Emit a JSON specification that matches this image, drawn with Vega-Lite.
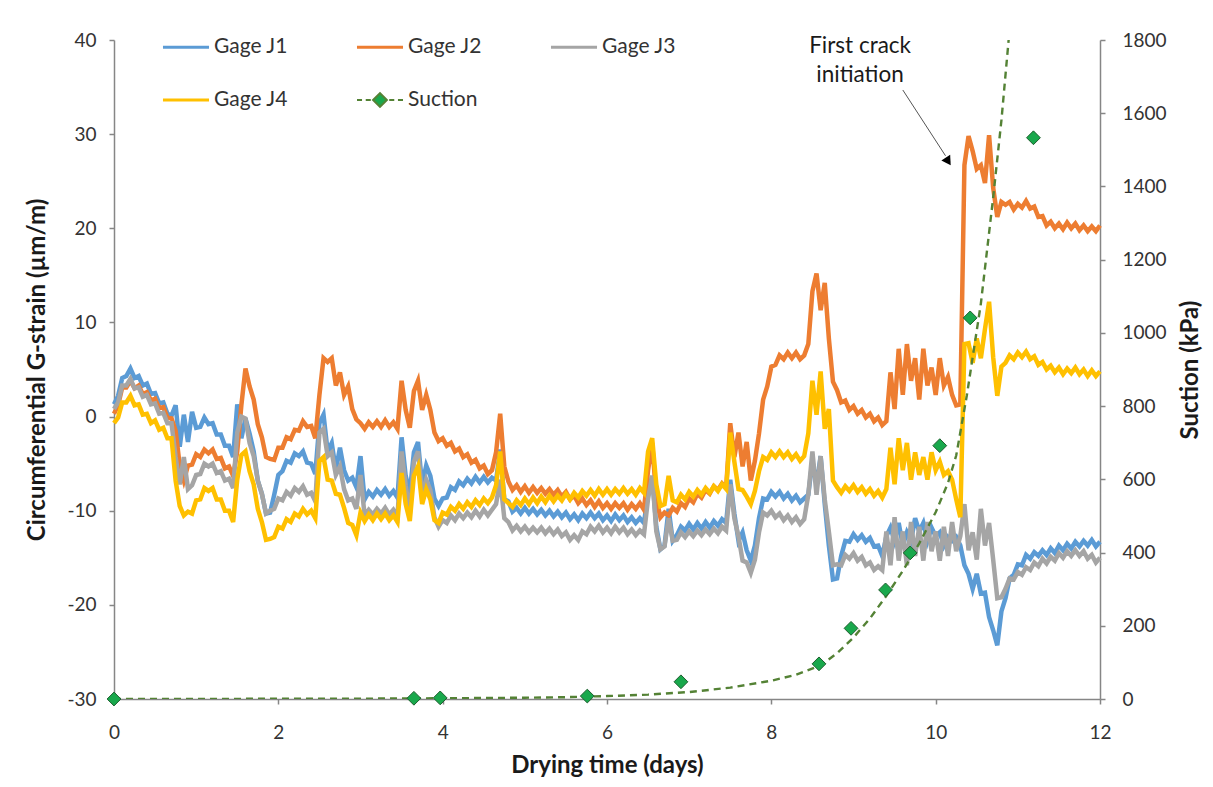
{
"$schema":"https://vega.github.io/schema/vega-lite/v6.json",
"width":986,"height":659,
"autosize":{"type":"none"},
"padding":{"left":114,"top":40,"right":113,"bottom":88},
"background":"white",
"config":{"font":"Lato","view":{"stroke":null},
"axis":{"grid":false,"labelFlush":false,"labelOverlap":false,"domainColor":"#868686","tickColor":"#868686","domainWidth":1.5,"tickWidth":1.5,"tickSize":5,"labelFont":"Lato","labelFontSize":19,"labelColor":"#333333","titleFont":"Lato","titleFontSize":24,"titleFontWeight":"bold","titleColor":"#1a1a1a"}},
"datasets":{
"g":[
{"t":0,"J1":1.3,"J2":0.3,"J3":0.8,"J4":-0.7},
{"t":0.05,"J1":2.2,"J2":1.2,"J3":1.5,"J4":-0.1},
{"t":0.1,"J1":4.1,"J2":3.1,"J3":3.3,"J4":1.5},
{"t":0.15,"J1":4.3,"J2":3.1,"J3":3.3,"J4":1.5},
{"t":0.2,"J1":5.1,"J2":3.8,"J3":4.0,"J4":2.2},
{"t":0.25,"J1":4.1,"J2":3.0,"J3":3.0,"J4":1.2},
{"t":0.3,"J1":4.3,"J2":3.3,"J3":3.1,"J4":1.3},
{"t":0.35,"J1":3.3,"J2":2.4,"J3":2.1,"J4":0.2},
{"t":0.4,"J1":3.5,"J2":2.6,"J3":2.3,"J4":0.3},
{"t":0.45,"J1":2.4,"J2":1.7,"J3":1.3,"J4":-0.7},
{"t":0.5,"J1":2.5,"J2":1.9,"J3":1.4,"J4":-0.4},
{"t":0.55,"J1":1.4,"J2":0.9,"J3":0.3,"J4":-1.4},
{"t":0.6,"J1":1.5,"J2":1.0,"J3":0.4,"J4":-1.2},
{"t":0.65,"J1":0.3,"J2":-0.1,"J3":-0.7,"J4":-2.3},
{"t":0.7,"J1":0.1,"J2":-0.2,"J3":-0.7,"J4":-2.3},
{"t":0.75,"J1":1.2,"J2":-1.5,"J3":-4.3,"J4":-6.8},
{"t":0.8,"J1":-3.2,"J2":-5.2,"J3":-7.2,"J4":-9.5},
{"t":0.85,"J1":0.2,"J2":-6.8,"J3":-4.3,"J4":-10.5},
{"t":0.9,"J1":-2.7,"J2":-5.2,"J3":-7.7,"J4":-10.1},
{"t":0.95,"J1":0.5,"J2":-5.1,"J3":-7.3,"J4":-10.3},
{"t":1.0,"J1":-1.2,"J2":-4.0,"J3":-6.2,"J4":-8.9},
{"t":1.05,"J1":-1.1,"J2":-4.3,"J3":-6.1,"J4":-8.8},
{"t":1.1,"J1":-0.1,"J2":-3.5,"J3":-5.0,"J4":-7.6},
{"t":1.15,"J1":-0.8,"J2":-3.9,"J3":-5.3,"J4":-7.9},
{"t":1.2,"J1":-0.7,"J2":-3.5,"J3":-5.0,"J4":-7.6},
{"t":1.25,"J1":-1.9,"J2":-4.5,"J3":-6.0,"J4":-8.8},
{"t":1.3,"J1":-1.9,"J2":-4.4,"J3":-5.8,"J4":-8.8},
{"t":1.35,"J1":-3.1,"J2":-5.5,"J3":-6.8,"J4":-10.0},
{"t":1.4,"J1":-3.1,"J2":-5.3,"J3":-6.6,"J4":-10.0},
{"t":1.45,"J1":-4.3,"J2":-6.3,"J3":-7.6,"J4":-11.2},
{"t":1.5,"J1":1.3,"J2":-3.7,"J3":-1.7,"J4":-6.7},
{"t":1.55,"J1":-2.3,"J2":1.2,"J3":0.0,"J4":-4.1},
{"t":1.6,"J1":-0.2,"J2":5.1,"J3":-0.2,"J4":-3.7},
{"t":1.65,"J1":-1.8,"J2":3.2,"J3":-2.8,"J4":-5.8},
{"t":1.7,"J1":-3.7,"J2":1.8,"J3":-4.2,"J4":-7.2},
{"t":1.75,"J1":-6.8,"J2":-0.8,"J3":-6.8,"J4":-9.8},
{"t":1.8,"J1":-8.2,"J2":-2.2,"J3":-8.2,"J4":-11.2},
{"t":1.85,"J1":-10.3,"J2":-4.3,"J3":-10.3,"J4":-13.1},
{"t":1.9,"J1":-10.2,"J2":-4.5,"J3":-10.0,"J4":-13.0},
{"t":1.95,"J1":-8.3,"J2":-4.6,"J3":-9.8,"J4":-12.8},
{"t":2.0,"J1":-6.2,"J2":-3.3,"J3":-8.7,"J4":-11.7},
{"t":2.05,"J1":-5.8,"J2":-3.3,"J3":-8.9,"J4":-11.9},
{"t":2.1,"J1":-4.7,"J2":-2.2,"J3":-8.0,"J4":-10.9},
{"t":2.15,"J1":-4.9,"J2":-2.4,"J3":-8.4,"J4":-11.2},
{"t":2.2,"J1":-3.9,"J2":-1.4,"J3":-7.6,"J4":-10.3},
{"t":2.25,"J1":-4.2,"J2":-1.5,"J3":-8.0,"J4":-10.6},
{"t":2.3,"J1":-3.7,"J2":-0.5,"J3":-7.4,"J4":-9.8},
{"t":2.35,"J1":-4.9,"J2":-1.1,"J3":-8.3,"J4":-10.4},
{"t":2.4,"J1":-5.0,"J2":-1.0,"J3":-8.1,"J4":-10.0},
{"t":2.45,"J1":-6.1,"J2":-2.3,"J3":-9.0,"J4":-10.8},
{"t":2.5,"J1":-0.7,"J2":2.3,"J3":-1.7,"J4":-4.7},
{"t":2.55,"J1":0.2,"J2":6.2,"J3":-1.3,"J4":-4.3},
{"t":2.6,"J1":-3.7,"J2":5.8,"J3":-4.2,"J4":-6.7},
{"t":2.65,"J1":-2.8,"J2":6.2,"J3":-3.8,"J4":-6.8},
{"t":2.7,"J1":-5.7,"J2":3.3,"J3":-6.2,"J4":-8.2},
{"t":2.75,"J1":-3.3,"J2":4.7,"J3":-5.3,"J4":-8.3},
{"t":2.8,"J1":-5.7,"J2":2.3,"J3":-7.7,"J4":-9.7},
{"t":2.85,"J1":-6.8,"J2":3.2,"J3":-8.9,"J4":-11.3},
{"t":2.9,"J1":-6.5,"J2":0.8,"J3":-8.7,"J4":-11.5},
{"t":2.95,"J1":-7.5,"J2":-0.3,"J3":-9.8,"J4":-12.6},
{"t":3.0,"J1":-4.2,"J2":-0.7,"J3":-6.2,"J4":-10.2},
{"t":3.05,"J1":-8.8,"J2":-1.3,"J3":-10.5,"J4":-11.1},
{"t":3.1,"J1":-8.0,"J2":-0.6,"J3":-9.9,"J4":-10.4},
{"t":3.15,"J1":-8.5,"J2":-1.1,"J3":-10.4,"J4":-11.0},
{"t":3.2,"J1":-7.8,"J2":-0.5,"J3":-9.8,"J4":-10.3},
{"t":3.25,"J1":-8.3,"J2":-1.1,"J3":-10.3,"J4":-10.9},
{"t":3.3,"J1":-7.7,"J2":-0.4,"J3":-9.7,"J4":-10.3},
{"t":3.35,"J1":-8.4,"J2":-1.1,"J3":-10.4,"J4":-11.0},
{"t":3.4,"J1":-7.9,"J2":-0.6,"J3":-9.9,"J4":-10.5},
{"t":3.45,"J1":-8.6,"J2":-1.3,"J3":-10.6,"J4":-11.2},
{"t":3.5,"J1":-2.2,"J2":3.8,"J3":-3.7,"J4":-6.0},
{"t":3.55,"J1":-6.3,"J2":0.7,"J3":-7.3,"J4":-9.3},
{"t":3.6,"J1":-8.1,"J2":-1.2,"J3":-10.3,"J4":-11.1},
{"t":3.65,"J1":-3.8,"J2":2.7,"J3":-4.8,"J4":-6.3},
{"t":3.7,"J1":-2.7,"J2":3.8,"J3":-3.7,"J4":-5.3},
{"t":3.75,"J1":-7.3,"J2":0.7,"J3":-8.3,"J4":-9.3},
{"t":3.8,"J1":-5.2,"J2":2.3,"J3":-6.7,"J4":-7.7},
{"t":3.85,"J1":-6.3,"J2":0.7,"J3":-7.8,"J4":-8.8},
{"t":3.9,"J1":-8.7,"J2":-1.7,"J3":-10.7,"J4":-11.0},
{"t":3.95,"J1":-9.5,"J2":-2.6,"J3":-11.7,"J4":-11.3},
{"t":4.0,"J1":-8.7,"J2":-2.3,"J3":-11.0,"J4":-10.2},
{"t":4.05,"J1":-8.6,"J2":-3.1,"J3":-11.3,"J4":-10.4},
{"t":4.1,"J1":-7.5,"J2":-2.8,"J3":-10.5,"J4":-9.6},
{"t":4.15,"J1":-7.8,"J2":-3.7,"J3":-11.0,"J4":-10.0},
{"t":4.2,"J1":-6.9,"J2":-3.4,"J3":-10.3,"J4":-9.3},
{"t":4.25,"J1":-7.3,"J2":-4.3,"J3":-10.8,"J4":-9.8},
{"t":4.3,"J1":-6.6,"J2":-4.0,"J3":-10.2,"J4":-9.1},
{"t":4.35,"J1":-7.1,"J2":-4.9,"J3":-10.7,"J4":-9.6},
{"t":4.4,"J1":-6.4,"J2":-4.6,"J3":-10.0,"J4":-8.9},
{"t":4.45,"J1":-7.0,"J2":-5.5,"J3":-10.6,"J4":-9.4},
{"t":4.5,"J1":-6.4,"J2":-5.2,"J3":-9.9,"J4":-8.7},
{"t":4.55,"J1":-7.0,"J2":-6.1,"J3":-10.5,"J4":-9.2},
{"t":4.6,"J1":-6.5,"J2":-5.7,"J3":-9.9,"J4":-8.6},
{"t":4.65,"J1":-6.8,"J2":-3.8,"J3":-9.3,"J4":-7.3},
{"t":4.7,"J1":-3.5,"J2":0.3,"J3":-6.7,"J4":-3.7},
{"t":4.75,"J1":-8.8,"J2":-5.3,"J3":-10.8,"J4":-8.8},
{"t":4.8,"J1":-9.0,"J2":-6.9,"J3":-11.2,"J4":-9.2},
{"t":4.85,"J1":-10.1,"J2":-7.8,"J3":-12.1,"J4":-9.6},
{"t":4.9,"J1":-9.7,"J2":-7.3,"J3":-11.6,"J4":-8.9},
{"t":4.95,"J1":-10.3,"J2":-8.0,"J3":-12.2,"J4":-9.4},
{"t":5.0,"J1":-9.7,"J2":-7.4,"J3":-11.7,"J4":-8.7},
{"t":5.05,"J1":-10.3,"J2":-8.1,"J3":-12.3,"J4":-9.3},
{"t":5.1,"J1":-9.8,"J2":-7.5,"J3":-11.8,"J4":-8.6},
{"t":5.15,"J1":-10.4,"J2":-8.1,"J3":-12.3,"J4":-9.2},
{"t":5.2,"J1":-9.9,"J2":-7.6,"J3":-11.8,"J4":-8.5},
{"t":5.25,"J1":-10.5,"J2":-8.2,"J3":-12.4,"J4":-9.1},
{"t":5.3,"J1":-10.0,"J2":-7.7,"J3":-11.9,"J4":-8.4},
{"t":5.35,"J1":-10.6,"J2":-8.3,"J3":-12.5,"J4":-9.0},
{"t":5.4,"J1":-10.1,"J2":-7.8,"J3":-12.0,"J4":-8.4},
{"t":5.45,"J1":-10.7,"J2":-8.5,"J3":-12.7,"J4":-8.9},
{"t":5.5,"J1":-10.2,"J2":-8.0,"J3":-12.3,"J4":-8.2},
{"t":5.55,"J1":-10.9,"J2":-8.8,"J3":-13.1,"J4":-8.8},
{"t":5.6,"J1":-10.4,"J2":-8.4,"J3":-12.6,"J4":-8.1},
{"t":5.65,"J1":-11.0,"J2":-9.2,"J3":-13.1,"J4":-8.6},
{"t":5.7,"J1":-10.3,"J2":-8.7,"J3":-12.2,"J4":-7.9},
{"t":5.75,"J1":-10.8,"J2":-9.4,"J3":-12.5,"J4":-8.4},
{"t":5.8,"J1":-10.2,"J2":-8.9,"J3":-11.7,"J4":-7.8},
{"t":5.85,"J1":-10.8,"J2":-9.6,"J3":-12.2,"J4":-8.4},
{"t":5.9,"J1":-10.3,"J2":-9.0,"J3":-11.6,"J4":-7.7},
{"t":5.95,"J1":-11.0,"J2":-9.7,"J3":-12.3,"J4":-8.3},
{"t":6.0,"J1":-10.5,"J2":-9.2,"J3":-11.8,"J4":-7.7},
{"t":6.05,"J1":-11.1,"J2":-9.8,"J3":-12.4,"J4":-8.3},
{"t":6.1,"J1":-10.4,"J2":-9.2,"J3":-11.7,"J4":-7.7},
{"t":6.15,"J1":-11.0,"J2":-9.7,"J3":-12.3,"J4":-8.2},
{"t":6.2,"J1":-10.5,"J2":-9.2,"J3":-11.8,"J4":-7.6},
{"t":6.25,"J1":-11.2,"J2":-9.9,"J3":-12.5,"J4":-8.2},
{"t":6.3,"J1":-10.7,"J2":-9.3,"J3":-12.0,"J4":-7.7},
{"t":6.35,"J1":-11.3,"J2":-9.8,"J3":-12.6,"J4":-8.3},
{"t":6.4,"J1":-10.8,"J2":-9.2,"J3":-12.1,"J4":-7.6},
{"t":6.45,"J1":-11.3,"J2":-9.9,"J3":-12.5,"J4":-8.1},
{"t":6.5,"J1":-8.2,"J2":-5.7,"J3":-8.7,"J4":-3.7},
{"t":6.55,"J1":-6.3,"J2":-2.8,"J3":-6.3,"J4":-2.3},
{"t":6.6,"J1":-11.7,"J2":-8.7,"J3":-12.2,"J4":-7.2},
{"t":6.65,"J1":-14.1,"J2":-10.7,"J3":-14.1,"J4":-9.5},
{"t":6.7,"J1":-13.7,"J2":-10.2,"J3":-13.8,"J4":-9.3},
{"t":6.75,"J1":-9.8,"J2":-10.5,"J3":-10.8,"J4":-6.3},
{"t":6.8,"J1":-13.2,"J2":-9.7,"J3":-13.2,"J4":-8.9},
{"t":6.85,"J1":-12.6,"J2":-10.1,"J3":-13.1,"J4":-9.1},
{"t":6.9,"J1":-11.7,"J2":-9.2,"J3":-12.3,"J4":-8.3},
{"t":6.95,"J1":-12.1,"J2":-9.6,"J3":-12.8,"J4":-8.8},
{"t":7.0,"J1":-11.4,"J2":-8.7,"J3":-12.2,"J4":-8.0},
{"t":7.05,"J1":-12.0,"J2":-9.1,"J3":-12.7,"J4":-8.5},
{"t":7.1,"J1":-11.3,"J2":-8.2,"J3":-12.1,"J4":-7.8},
{"t":7.15,"J1":-11.9,"J2":-8.6,"J3":-12.6,"J4":-8.3},
{"t":7.2,"J1":-11.2,"J2":-7.8,"J3":-12.0,"J4":-7.6},
{"t":7.25,"J1":-11.8,"J2":-8.2,"J3":-12.5,"J4":-8.1},
{"t":7.3,"J1":-11.1,"J2":-7.4,"J3":-11.9,"J4":-7.4},
{"t":7.35,"J1":-11.6,"J2":-7.8,"J3":-12.4,"J4":-7.9},
{"t":7.4,"J1":-10.9,"J2":-7.1,"J3":-11.7,"J4":-7.2},
{"t":7.45,"J1":-11.3,"J2":-7.6,"J3":-12.1,"J4":-7.7},
{"t":7.5,"J1":-6.7,"J2":-0.7,"J3":-7.2,"J4":-1.7},
{"t":7.55,"J1":-10.3,"J2":-4.3,"J3":-10.8,"J4":-4.8},
{"t":7.6,"J1":-13.2,"J2":-1.7,"J3":-12.7,"J4":-7.7},
{"t":7.65,"J1":-12.3,"J2":-5.3,"J3":-15.3,"J4":-7.8},
{"t":7.7,"J1":-14.2,"J2":-2.7,"J3":-15.5,"J4":-8.5},
{"t":7.75,"J1":-15.3,"J2":-6.8,"J3":-16.6,"J4":-9.3},
{"t":7.8,"J1":-13.7,"J2":-4.7,"J3":-15.2,"J4":-7.9},
{"t":7.85,"J1":-10.8,"J2":-1.8,"J3":-12.3,"J4":-5.8},
{"t":7.9,"J1":-8.7,"J2":1.8,"J3":-10.2,"J4":-4.3},
{"t":7.95,"J1":-8.8,"J2":3.2,"J3":-10.5,"J4":-4.6},
{"t":8.0,"J1":-8.0,"J2":5.3,"J3":-10.0,"J4":-3.8},
{"t":8.05,"J1":-8.5,"J2":5.5,"J3":-10.7,"J4":-4.3},
{"t":8.1,"J1":-8.0,"J2":6.5,"J3":-10.3,"J4":-3.7},
{"t":8.15,"J1":-8.7,"J2":6.1,"J3":-11.0,"J4":-4.3},
{"t":8.2,"J1":-8.2,"J2":6.8,"J3":-10.5,"J4":-3.8},
{"t":8.25,"J1":-8.9,"J2":6.2,"J3":-11.2,"J4":-4.5},
{"t":8.3,"J1":-8.4,"J2":6.8,"J3":-10.7,"J4":-4.0},
{"t":8.35,"J1":-9.1,"J2":6.1,"J3":-11.4,"J4":-4.7},
{"t":8.4,"J1":-8.7,"J2":6.5,"J3":-10.9,"J4":-4.2},
{"t":8.45,"J1":-8.3,"J2":7.7,"J3":-8.3,"J4":-1.8},
{"t":8.5,"J1":-4.7,"J2":13.3,"J3":-3.7,"J4":3.8},
{"t":8.55,"J1":-7.3,"J2":15.2,"J3":-8.3,"J4":0.2},
{"t":8.6,"J1":-4.2,"J2":11.3,"J3":-4.2,"J4":4.8},
{"t":8.65,"J1":-9.3,"J2":14.2,"J3":-8.8,"J4":-1.3},
{"t":8.7,"J1":-13.7,"J2":8.3,"J3":-12.2,"J4":0.8},
{"t":8.75,"J1":-17.3,"J2":3.7,"J3":-15.8,"J4":-6.8},
{"t":8.8,"J1":-17.2,"J2":2.8,"J3":-15.7,"J4":-7.5},
{"t":8.85,"J1":-14.8,"J2":1.5,"J3":-15.8,"J4":-8.1},
{"t":8.9,"J1":-13.2,"J2":1.7,"J3":-14.7,"J4":-7.4},
{"t":8.95,"J1":-13.3,"J2":0.7,"J3":-15.1,"J4":-7.9},
{"t":9.0,"J1":-12.5,"J2":1.1,"J3":-14.5,"J4":-7.3},
{"t":9.05,"J1":-13.1,"J2":0.3,"J3":-15.3,"J4":-8.0},
{"t":9.1,"J1":-12.6,"J2":0.7,"J3":-14.9,"J4":-7.5},
{"t":9.15,"J1":-13.3,"J2":-0.1,"J3":-15.8,"J4":-8.2},
{"t":9.2,"J1":-12.9,"J2":0.3,"J3":-15.5,"J4":-7.7},
{"t":9.25,"J1":-13.8,"J2":-0.5,"J3":-16.3,"J4":-8.4},
{"t":9.3,"J1":-13.7,"J2":-0.1,"J3":-15.9,"J4":-7.9},
{"t":9.35,"J1":-14.8,"J2":-0.9,"J3":-16.3,"J4":-8.6},
{"t":9.4,"J1":-12.7,"J2":-0.5,"J3":-12.2,"J4":-7.7},
{"t":9.45,"J1":-11.8,"J2":4.7,"J3":-15.8,"J4":-3.3},
{"t":9.5,"J1":-13.2,"J2":0.8,"J3":-10.7,"J4":-7.2},
{"t":9.55,"J1":-11.3,"J2":7.2,"J3":-15.3,"J4":-2.3},
{"t":9.6,"J1":-13.7,"J2":2.3,"J3":-12.2,"J4":-5.7},
{"t":9.65,"J1":-12.3,"J2":7.7,"J3":-15.8,"J4":-2.8},
{"t":9.7,"J1":-13.2,"J2":3.8,"J3":-11.2,"J4":-6.7},
{"t":9.75,"J1":-10.8,"J2":6.2,"J3":-14.8,"J4":-3.8},
{"t":9.8,"J1":-12.2,"J2":1.8,"J3":-11.7,"J4":-6.2},
{"t":9.85,"J1":-11.3,"J2":7.2,"J3":-15.3,"J4":-4.3},
{"t":9.9,"J1":-13.2,"J2":3.3,"J3":-11.2,"J4":-6.7},
{"t":9.95,"J1":-11.8,"J2":5.2,"J3":-14.3,"J4":-3.8},
{"t":10.0,"J1":-12.7,"J2":2.3,"J3":-12.2,"J4":-5.7},
{"t":10.05,"J1":-12.3,"J2":6.2,"J3":-15.3,"J4":-4.8},
{"t":10.1,"J1":-13.7,"J2":3.3,"J3":-11.7,"J4":-6.2},
{"t":10.15,"J1":-12.8,"J2":4.2,"J3":-14.8,"J4":-5.8},
{"t":10.2,"J1":-13.2,"J2":2.3,"J3":-11.2,"J4":-6.7},
{"t":10.25,"J1":-12.8,"J2":1.2,"J3":-14.3,"J4":-8.8},
{"t":10.3,"J1":-13.7,"J2":1.3,"J3":-12.7,"J4":-10.7},
{"t":10.35,"J1":-15.8,"J2":26.7,"J3":-9.3,"J4":7.7},
{"t":10.4,"J1":-16.7,"J2":29.8,"J3":-14.2,"J4":7.8},
{"t":10.45,"J1":-18.3,"J2":28.2,"J3":-12.3,"J4":5.7},
{"t":10.5,"J1":-16.7,"J2":26.3,"J3":-15.2,"J4":8.3},
{"t":10.55,"J1":-18.8,"J2":26.7,"J3":-9.8,"J4":6.2},
{"t":10.6,"J1":-18.7,"J2":24.8,"J3":-13.7,"J4":9.3},
{"t":10.65,"J1":-21.3,"J2":29.9,"J3":-11.3,"J4":12.2},
{"t":10.7,"J1":-22.7,"J2":24.3,"J3":-15.2,"J4":6.3},
{"t":10.75,"J1":-24.3,"J2":21.2,"J3":-19.3,"J4":2.2},
{"t":10.8,"J1":-20.7,"J2":22.8,"J3":-19.2,"J4":5.3},
{"t":10.85,"J1":-19.3,"J2":22.5,"J3":-18.3,"J4":5.7},
{"t":10.9,"J1":-17.2,"J2":22.8,"J3":-17.2,"J4":6.5},
{"t":10.95,"J1":-16.8,"J2":22.0,"J3":-17.3,"J4":6.1},
{"t":11.0,"J1":-15.7,"J2":22.6,"J3":-16.5,"J4":6.8},
{"t":11.05,"J1":-15.8,"J2":22.2,"J3":-16.8,"J4":6.3},
{"t":11.1,"J1":-14.7,"J2":22.9,"J3":-16.0,"J4":6.9},
{"t":11.15,"J1":-15.1,"J2":22.1,"J3":-16.3,"J4":6.1},
{"t":11.2,"J1":-14.4,"J2":22.3,"J3":-15.5,"J4":6.4},
{"t":11.25,"J1":-14.8,"J2":21.2,"J3":-15.9,"J4":5.5},
{"t":11.3,"J1":-14.2,"J2":21.3,"J3":-15.1,"J4":5.8},
{"t":11.35,"J1":-14.7,"J2":20.3,"J3":-15.6,"J4":5.0},
{"t":11.4,"J1":-14.0,"J2":20.7,"J3":-14.9,"J4":5.4},
{"t":11.45,"J1":-14.5,"J2":20.0,"J3":-15.3,"J4":4.7},
{"t":11.5,"J1":-13.7,"J2":20.5,"J3":-14.5,"J4":5.2},
{"t":11.55,"J1":-14.2,"J2":19.9,"J3":-15.0,"J4":4.5},
{"t":11.6,"J1":-13.5,"J2":20.6,"J3":-14.3,"J4":5.1},
{"t":11.65,"J1":-14.0,"J2":20.0,"J3":-14.8,"J4":4.6},
{"t":11.7,"J1":-13.3,"J2":20.5,"J3":-14.2,"J4":5.2},
{"t":11.75,"J1":-13.8,"J2":19.8,"J3":-14.8,"J4":4.5},
{"t":11.8,"J1":-13.2,"J2":20.3,"J3":-14.3,"J4":5.0},
{"t":11.85,"J1":-13.7,"J2":19.7,"J3":-15.1,"J4":4.3},
{"t":11.9,"J1":-13.1,"J2":20.2,"J3":-14.7,"J4":4.9},
{"t":11.95,"J1":-13.8,"J2":19.7,"J3":-15.5,"J4":4.3},
{"t":12.0,"J1":-13.3,"J2":20.3,"J3":-15.0,"J4":4.8}
],
"s":[
{"t":0,"p":0},{"t":3.65,"p":2},{"t":3.97,"p":3},{"t":5.76,"p":8},{"t":6.9,"p":47},{"t":8.58,"p":96},{"t":8.97,"p":193},{"t":9.39,"p":298},{"t":9.69,"p":399},{"t":10.05,"p":692},{"t":10.42,"p":1041},{"t":11.19,"p":1533}
],
"tr":[
{"t":0,"p":0},{"t":1,"p":0.3},{"t":2,"p":0.6},{"t":3,"p":1},{"t":4,"p":2},{"t":5,"p":3.5},{"t":5.5,"p":5},{"t":6,"p":8},{"t":6.5,"p":12},{"t":7,"p":19},{"t":7.5,"p":31},{"t":8,"p":50},{"t":8.3,"p":66},{"t":8.6,"p":92},{"t":8.8,"p":125},{"t":9,"p":168},{"t":9.2,"p":220},{"t":9.4,"p":282},{"t":9.6,"p":350},{"t":9.8,"p":425},{"t":10,"p":510},{"t":10.15,"p":590},{"t":10.25,"p":665},{"t":10.38,"p":830},{"t":10.55,"p":1080},{"t":10.7,"p":1370},{"t":10.8,"p":1580},{"t":10.9,"p":1830}
],
"txt":[{"t":9.08,"v":39.31,"label":["First crack","initiation"]}],
"arr":[{"t":9.6,"v":34.69,"t2":10.12,"v2":27.7}],
"head":[{"t":10.153,"v":27.11}]
},
"layer":[
{"layer":[
{"data":{"name":"g"},
"transform":[{"fold":["J1","J2","J3","J4"],"as":["s","v"]}],
"mark":{"type":"line","strokeWidth":4.5,"strokeJoin":"miter"},
"encoding":{
"x":{"field":"t","type":"quantitative","scale":{"domain":[0,12],"nice":false},"axis":{"values":[0,2,4,6,8,10,12],"labelExpr":"'' + datum.value","title":"Drying time (days)","labelPadding":19,"titleX":493,"titleY":66,"titleBaseline":"middle","titleAlign":"center"}},
"y":{"field":"v","type":"quantitative","scale":{"domain":[-30,40],"nice":false},"axis":{"values":[-30,-20,-10,0,10,20,30,40],"labelExpr":"'' + datum.value","title":"Circumferential G-strain (µm/m)","labelPadding":13,"titleX":-77,"titleY":329.5,"titleAngle":270,"titleBaseline":"middle","titleAlign":"center"}},
"color":{"field":"s","type":"nominal","scale":{"domain":["J1","J2","J3","J4","Suction"],"range":["#5B9BD5","#ED7D31","#A5A5A5","#FFC000","#548235"]},
"legend":{"orient":"none","direction":"horizontal","legendX":61.5,"legendY":-3.5,"columns":3,"title":null,"padding":0,
"symbolType":"stroke","symbolSize":2120,"symbolStrokeWidth":3,"labelFont":"Lato","labelFontSize":21,"labelColor":"#333333","labelOffset":17.5,"columnPadding":62,"rowPadding":31,
"labelExpr":"datum.value == 'Suction' ? 'Suction' : 'Gage ' + datum.value",
"encode":{"symbols":{"update":{
"shape":{"signal":"datum.value == 'Suction' ? 'M-1,0L-0.78,0M-0.62,0L-0.4,0M-0.3,0L0,-0.3L0.3,0L0,0.3ZM0.4,0L0.62,0M0.78,0L1,0' : 'stroke'"},
"fill":{"signal":"datum.value == 'Suction' ? '#19a84c' : 'transparent'"},
"stroke":{"signal":"datum.value == 'Suction' ? '#4f7f32' : scale('color', datum.value)"},
"strokeWidth":{"signal":"datum.value == 'Suction' ? 2 : 3"}}}}}}
}},
{"data":{"name":"txt"},
"mark":{"type":"text","fontSize":22.5,"font":"Lato","color":"#1a1a1a","align":"center","baseline":"middle","lineHeight":29},
"encoding":{"x":{"field":"t","type":"quantitative"},"y":{"field":"v","type":"quantitative"},"text":{"field":"label"}}},
{"data":{"name":"arr"},
"mark":{"type":"rule","color":"#555555","strokeWidth":1},
"encoding":{"x":{"field":"t","type":"quantitative"},"y":{"field":"v","type":"quantitative"},"x2":{"field":"t2"},"y2":{"field":"v2"}}},
{"data":{"name":"head"},
"mark":{"type":"point","shape":"triangle-up","angle":147,"size":110,"filled":true,"color":"#000000","opacity":1},
"encoding":{"x":{"field":"t","type":"quantitative"},"y":{"field":"v","type":"quantitative"}}}
]},
{"layer":[
{"data":{"name":"tr"},
"mark":{"type":"line","strokeDash":[7,5],"strokeWidth":2.4,"color":"#548235","clip":true},
"encoding":{
"x":{"field":"t","type":"quantitative"},
"y":{"field":"p","type":"quantitative","scale":{"domain":[0,1800],"nice":false},"axis":{"orient":"right","values":[0,200,400,600,800,1000,1200,1400,1600,1800],"format":"d","title":"Suction (kPa)","labelPadding":17,"titleX":90,"titleY":329.5,"titleAngle":270,"titleBaseline":"middle","titleAlign":"center"}}}},
{"data":{"name":"s"},
"mark":{"type":"point","shape":"diamond","size":190,"filled":true,"fill":"#19a84c","stroke":"#1e5e2e","strokeWidth":1,"opacity":1},
"encoding":{
"x":{"field":"t","type":"quantitative"},
"y":{"field":"p","type":"quantitative"}}}
]}
],
"resolve":{"scale":{"y":"independent"}}
}
